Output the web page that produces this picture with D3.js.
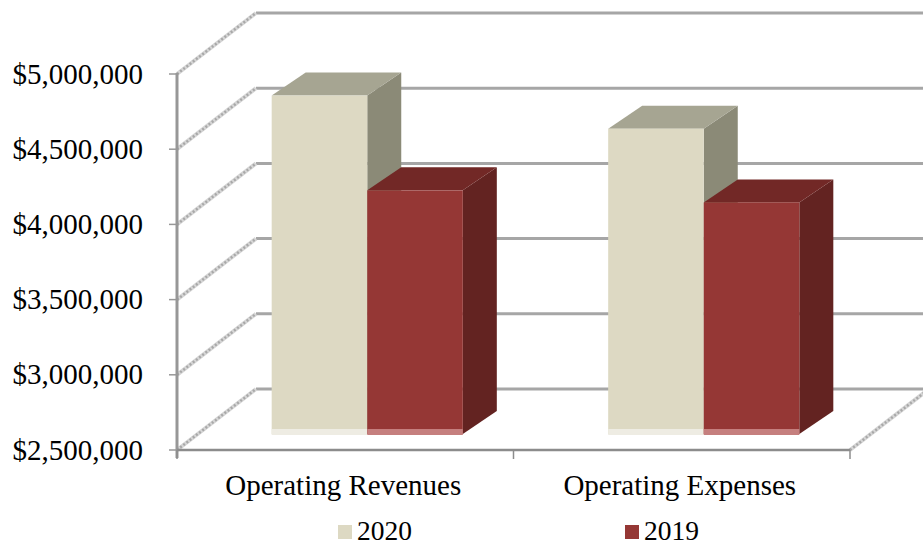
<!DOCTYPE html>
<html>
<head>
<meta charset="utf-8">
<script src="https://cdn.jsdelivr.net/npm/d3@7"></script>
<style>
  html, body { margin: 0; padding: 0; background: #fff; }
  svg { display: block; }
  text { font-family: "Liberation Serif", "Times New Roman", serif; fill: #000; }
</style>
</head>
<body>
<svg id="chart" width="923" height="546"></svg>
<script>
const categories = ["Operating Revenues", "Operating Expenses"];
const seriesNames = ["2020", "2019"];
const values2020 = [4750000, 4530000];
const values2019 = [4120000, 4040000];
const yTicks = [2500000, 3000000, 3500000, 4000000, 4500000, 5000000];

const colors = {
  "2020": { front: "#DDD9C3", top: "#A6A592", side: "#8B8A77", strip: "#EEECE3" },
  "2019": { front: "#953735", top: "#722826", side: "#632321", strip: "#C57F7E" }
};

const svg = d3.select("#chart");

// front plane geometry
const x0 = 177, x1 = 850;
const y = d3.scaleLinear().domain([2500000, 5000000]).range([450, 74]);
const x = d3.scaleBand().domain(categories).range([x0, x1]).paddingInner(0).paddingOuter(0);
const groupFrac = 0.568;
const xs = d3.scaleBand().domain(seriesNames).range([0, x.bandwidth() * groupFrac]).padding(0);

// depth offsets
const DX = 79, DY = -61;         // full floor/wall depth
const bFX = 22, bFY = -16;       // bar front face offset
const bDX = 34, bDY = -23;       // bar depth

// back wall gridlines
const grid = svg.append("g");
yTicks.forEach(t => {
  grid.append("line")
    .attr("x1", x0 + DX).attr("x2", x1 + DX)
    .attr("y1", y(t) + DY).attr("y2", y(t) + DY)
    .attr("stroke", "#A6A6A6").attr("stroke-width", 3);
});

// left wall diagonals (textured)
function diag(xa, ya) {
  grid.append("line")
    .attr("x1", xa).attr("y1", ya).attr("x2", xa + DX).attr("y2", ya + DY)
    .attr("stroke", "#D6D6D6").attr("stroke-width", 4);
  grid.append("line")
    .attr("x1", xa).attr("y1", ya).attr("x2", xa + DX).attr("y2", ya + DY)
    .attr("stroke", "#A8A8A8").attr("stroke-width", 2.5)
    .attr("stroke-dasharray", "2,2");
}
yTicks.forEach(t => diag(x0, y(t)));
// right floor diagonal
diag(x1, y(2500000));

// bars
const data = categories.map((c, i) => ({ cat: c, vals: [
  { s: "2020", v: values2020[i] },
  { s: "2019", v: values2019[i] }
]}));

const barsG = svg.append("g");
const groupOffset = (x.bandwidth() - x.bandwidth() * groupFrac) / 2;
data.forEach(d => {
  d.vals.forEach(b => {
    const c = colors[b.s];
    const left = x(d.cat) + groupOffset + xs(b.s) + bFX;
    const right = left + xs.bandwidth();
    const top = y(b.v) + bFY;
    const bottom = y(2500000) + bFY;
    const g = barsG.append("g");
    g.append("path")
      .attr("d", `M${right},${top} L${right + bDX},${top + bDY} L${right + bDX},${bottom + bDY} L${right},${bottom} Z`)
      .attr("fill", c.side);
    g.append("path")
      .attr("d", `M${left},${top} L${left + bDX},${top + bDY} L${right + bDX},${top + bDY} L${right},${top} Z`)
      .attr("fill", c.top);
    g.append("rect")
      .attr("x", left).attr("y", top)
      .attr("width", right - left).attr("height", bottom - top)
      .attr("fill", c.front);
    g.append("rect")
      .attr("x", left).attr("y", bottom - 5)
      .attr("width", right - left).attr("height", 6)
      .attr("fill", c.strip);
  });
});

// axes
const axG = svg.append("g");
axG.append("line")
  .attr("x1", x0).attr("x2", x0)
  .attr("y1", y(5000000) - 1).attr("y2", y(2500000) + 8)
  .attr("stroke", "#979797").attr("stroke-width", 3);
yTicks.forEach(t => {
  axG.append("line")
    .attr("x1", x0 - 8).attr("x2", x0)
    .attr("y1", y(t)).attr("y2", y(t))
    .attr("stroke", "#979797").attr("stroke-width", 1.5);
});
axG.append("line")
  .attr("x1", x0).attr("x2", x1)
  .attr("y1", y(2500000)).attr("y2", y(2500000))
  .attr("stroke", "#8C8C8C").attr("stroke-width", 2.5);
[x0, x0 + x.bandwidth(), x1].forEach(xx => {
  axG.append("line")
    .attr("x1", xx).attr("x2", xx)
    .attr("y1", y(2500000)).attr("y2", y(2500000) + 9)
    .attr("stroke", "#8C8C8C").attr("stroke-width", 1.5);
});

const fmt = d3.format("$,.0f");
axG.selectAll("text.ylab").data(yTicks).enter().append("text")
  .attr("class", "ylab")
  .attr("x", 143).attr("y", t => y(t) + 9.5)
  .attr("text-anchor", "end")
  .attr("font-size", 29)
  .text(t => fmt(t));

axG.selectAll("text.xlab").data(categories).enter().append("text")
  .attr("class", "xlab")
  .attr("x", c => x(c) + x.bandwidth() / 2 - 2)
  .attr("y", 495)
  .attr("text-anchor", "middle")
  .attr("font-size", 29)
  .text(c => c);

// legend
const legendX = [338, 625];
const lg = svg.append("g");
seriesNames.forEach((s, i) => {
  lg.append("rect")
    .attr("x", legendX[i]).attr("y", 525)
    .attr("width", 14).attr("height", 14)
    .attr("fill", colors[s].front);
  lg.append("text")
    .attr("x", legendX[i] + 19).attr("y", 540)
    .attr("font-size", 27.5)
    .text(s);
});
</script>
</body>
</html>
